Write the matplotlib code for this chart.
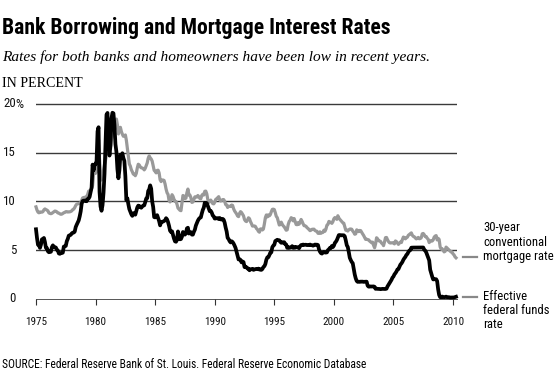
import numpy as np
import matplotlib
matplotlib.use("Agg")
import matplotlib.pyplot as plt
from matplotlib import font_manager

# Monthly values, Jan 1975 onward
funds_rate = [
    7.13, 6.24, 5.54, 5.49, 5.22, 5.55, 6.10, 6.14, 6.24, 5.82, 5.22, 5.20,
    4.87, 4.77, 4.84, 4.82, 5.29, 5.48, 5.31, 5.29, 5.25, 5.02, 4.95, 4.65,
    4.61, 4.68, 4.69, 4.73, 5.35, 5.39, 5.42, 5.90, 6.14, 6.47, 6.51, 6.56,
    6.70, 6.78, 6.79, 6.89, 7.36, 7.60, 7.81, 8.04, 8.45, 8.96, 9.76, 10.03,
    10.07, 10.06, 10.09, 10.01, 10.24, 10.29, 10.47, 10.94, 11.43, 13.77, 13.18, 13.78,
    13.82, 14.13, 17.19, 17.61, 10.98, 9.47, 9.03, 9.61, 10.87, 12.81, 15.85, 18.90,
    19.08, 15.93, 14.70, 15.72, 18.52, 19.10, 19.04, 17.82, 15.87, 15.08, 13.31, 12.37,
    13.22, 14.78, 14.68, 14.94, 14.45, 14.15, 12.59, 10.12, 10.31, 9.71, 9.20, 8.95,
    8.68, 8.51, 8.77, 8.80, 8.63, 8.98, 9.37, 9.56, 9.45, 9.48, 9.34, 9.47,
    9.56, 9.59, 9.91, 10.29, 10.32, 11.06, 11.23, 11.64, 11.30, 9.99, 9.43, 8.38,
    8.35, 8.50, 8.58, 8.27, 7.97, 7.53, 7.88, 7.90, 7.92, 7.99, 8.05, 8.27,
    8.14, 7.86, 7.48, 6.99, 6.85, 6.92, 6.56, 6.17, 5.89, 5.85, 6.04, 6.91,
    6.43, 6.10, 6.13, 6.37, 6.85, 6.73, 6.58, 6.73, 7.22, 7.29, 6.69, 6.77,
    6.83, 6.58, 6.58, 6.87, 7.09, 7.51, 7.75, 8.01, 8.19, 8.30, 8.35, 8.76,
    9.12, 9.36, 9.85, 9.84, 9.81, 9.53, 9.24, 8.99, 9.02, 8.84, 8.55, 8.45,
    8.23, 8.24, 8.28, 8.26, 8.18, 8.29, 8.15, 8.13, 8.20, 8.11, 7.81, 7.31,
    6.91, 6.25, 6.12, 5.91, 5.78, 5.90, 5.82, 5.66, 5.45, 5.21, 4.81, 4.43,
    4.03, 4.06, 3.98, 3.73, 3.82, 3.76, 3.25, 3.30, 3.22, 3.10, 3.09, 2.92,
    3.02, 3.03, 3.07, 2.96, 3.00, 3.04, 3.06, 3.03, 3.09, 2.99, 3.02, 2.96,
    3.05, 3.25, 3.34, 3.56, 4.01, 4.25, 4.26, 4.47, 4.73, 4.76, 5.29, 5.45,
    5.53, 5.92, 5.98, 6.05, 6.01, 6.00, 5.85, 5.74, 5.80, 5.76, 5.80, 5.60,
    5.56, 5.22, 5.31, 5.22, 5.24, 5.27, 5.40, 5.22, 5.30, 5.24, 5.31, 5.29,
    5.25, 5.19, 5.39, 5.51, 5.50, 5.56, 5.52, 5.54, 5.54, 5.50, 5.52, 5.50,
    5.56, 5.51, 5.49, 5.45, 5.49, 5.56, 5.54, 5.55, 5.51, 5.07, 4.83, 4.68,
    4.63, 4.76, 4.81, 4.74, 4.74, 4.76, 4.99, 5.07, 5.22, 5.20, 5.42, 5.30,
    5.45, 5.73, 5.85, 6.02, 6.27, 6.53, 6.54, 6.50, 6.52, 6.51, 6.51, 6.40,
    5.98, 5.49, 5.31, 4.80, 4.21, 3.97, 3.77, 3.65, 3.07, 2.49, 2.09, 1.82,
    1.73, 1.74, 1.73, 1.75, 1.75, 1.75, 1.73, 1.74, 1.75, 1.75, 1.34, 1.24,
    1.24, 1.26, 1.25, 1.26, 1.26, 1.22, 1.01, 1.03, 1.01, 1.01, 1.00, 0.98,
    1.00, 1.01, 1.00, 1.00, 1.00, 1.03, 1.26, 1.43, 1.61, 1.76, 1.93, 2.16,
    2.28, 2.50, 2.63, 2.79, 3.00, 3.04, 3.26, 3.50, 3.62, 3.78, 4.00, 4.16,
    4.29, 4.49, 4.59, 4.79, 4.94, 4.99, 5.24, 5.25, 5.25, 5.25, 5.25, 5.24,
    5.25, 5.26, 5.26, 5.25, 5.25, 5.25, 5.26, 5.02, 4.94, 4.76, 4.49, 4.24,
    3.94, 2.98, 2.61, 2.28, 1.98, 2.00, 2.01, 2.00, 1.81, 0.97, 0.39, 0.16,
    0.15, 0.22, 0.18, 0.15, 0.18, 0.21, 0.16, 0.16, 0.15, 0.12, 0.12, 0.12,
    0.11, 0.13, 0.16, 0.20,
]

mortgage_rate = [
    9.43, 9.10, 8.89, 8.82, 8.91, 8.89, 8.89, 8.94, 9.13, 9.22, 9.15, 9.10,
    9.02, 8.81, 8.76, 8.73, 8.77, 8.85, 8.93, 9.00, 8.98, 8.92, 8.81, 8.79,
    8.72, 8.67, 8.69, 8.75, 8.83, 8.86, 8.94, 8.94, 8.90, 8.92, 8.92, 8.96,
    9.02, 9.15, 9.20, 9.36, 9.57, 9.71, 9.74, 9.78, 9.76, 9.86, 10.11, 10.35,
    10.39, 10.41, 10.43, 10.50, 10.69, 11.04, 11.09, 11.09, 11.30, 11.64, 12.83, 12.90,
    12.88, 13.04, 15.28, 16.32, 14.26, 12.71, 12.19, 12.56, 13.20, 13.79, 14.21, 14.79,
    14.90, 15.13, 15.40, 15.58, 16.40, 16.70, 16.83, 17.29, 18.16, 18.45, 17.83, 16.92,
    17.40, 17.60, 17.16, 16.89, 16.68, 16.70, 16.82, 16.27, 15.43, 14.61, 13.83, 13.62,
    13.25, 13.04, 12.80, 12.78, 12.63, 12.87, 13.42, 13.81, 13.73, 13.54, 13.44, 13.42,
    13.37, 13.23, 13.39, 13.65, 13.94, 14.42, 14.67, 14.47, 14.35, 14.13, 13.64, 13.18,
    13.08, 12.92, 13.17, 13.20, 12.91, 12.22, 12.03, 12.19, 12.19, 12.14, 11.78, 11.26,
    10.88, 10.71, 10.08, 9.94, 10.14, 10.68, 10.51, 10.20, 10.01, 9.98, 9.70, 9.31,
    9.20, 9.08, 9.04, 9.83, 10.60, 10.54, 10.28, 10.33, 10.89, 11.26, 10.65, 10.64,
    10.38, 9.89, 9.93, 10.20, 10.46, 10.46, 10.43, 10.60, 10.48, 10.30, 10.27, 10.61,
    10.73, 10.65, 11.03, 11.05, 10.77, 10.20, 9.88, 9.99, 10.13, 9.95, 9.77, 9.74,
    9.90, 10.20, 10.27, 10.37, 10.48, 10.16, 10.04, 10.10, 10.18, 10.18, 10.01, 9.67,
    9.64, 9.37, 9.50, 9.49, 9.47, 9.62, 9.58, 9.24, 9.01, 8.86, 8.71, 8.50,
    8.43, 8.76, 8.94, 8.85, 8.67, 8.51, 8.13, 7.98, 7.92, 8.09, 8.31, 8.22,
    7.92, 7.71, 7.46, 7.46, 7.47, 7.42, 7.21, 7.11, 6.92, 6.83, 7.16, 7.17,
    7.06, 7.15, 7.68, 8.32, 8.60, 8.40, 8.61, 8.51, 8.64, 8.93, 9.17, 9.20,
    9.15, 8.83, 8.46, 8.32, 7.96, 7.57, 7.61, 7.86, 7.64, 7.48, 7.38, 7.20,
    7.03, 7.08, 7.62, 7.93, 8.07, 8.32, 8.25, 8.00, 8.23, 7.92, 7.62, 7.60,
    7.82, 7.65, 7.90, 8.14, 7.94, 7.69, 7.50, 7.48, 7.43, 7.29, 7.21, 7.10,
    6.99, 7.04, 7.13, 7.14, 7.14, 7.00, 6.95, 6.92, 6.72, 6.71, 6.87, 6.72,
    6.79, 6.81, 7.04, 6.92, 7.15, 7.55, 7.63, 7.94, 7.82, 7.85, 7.74, 7.91,
    8.21, 8.33, 8.24, 8.15, 8.52, 8.29, 8.15, 8.03, 7.91, 7.80, 7.75, 7.38,
    7.03, 7.05, 6.95, 7.08, 7.15, 7.16, 7.13, 6.95, 6.82, 6.62, 6.66, 7.07,
    7.00, 6.89, 7.01, 6.99, 6.81, 6.65, 6.49, 6.29, 6.09, 6.11, 6.07, 6.05,
    5.92, 5.84, 5.75, 5.81, 5.48, 5.23, 5.63, 6.26, 6.15, 5.95, 5.93, 5.88,
    5.71, 5.64, 5.45, 5.83, 6.27, 6.29, 6.06, 5.87, 5.75, 5.72, 5.73, 5.75,
    5.71, 5.63, 5.93, 5.86, 5.72, 5.58, 5.70, 5.82, 5.77, 6.07, 6.33, 6.27,
    6.15, 6.25, 6.32, 6.51, 6.60, 6.68, 6.76, 6.52, 6.40, 6.36, 6.24, 6.14,
    6.22, 6.29, 6.16, 6.18, 6.26, 6.66, 6.70, 6.57, 6.38, 6.38, 6.21, 6.10,
    5.76, 5.92, 5.97, 5.92, 6.04, 6.32, 6.43, 6.48, 6.04, 6.20, 6.09, 5.33,
    5.10, 5.13, 5.00, 4.81, 4.86, 5.30, 5.20, 5.10, 5.00, 4.90, 4.80, 4.80,
    4.60, 4.50, 4.30, 4.20,
]

start_year = 1975
x_ticks = [1975, 1980, 1985, 1990, 1995, 2000, 2005, 2010]
y_ticks = [0, 5, 10, 15, 20]
y_tick_labels = ["0", "5", "10", "15", "20"]

title = "Bank Borrowing and Mortgage Interest Rates"
subtitle = "Rates for both banks and homeowners have been low in recent years."
unit_label = "IN PERCENT"
source = "SOURCE: Federal Reserve Bank of St. Louis. Federal Reserve Economic Database"
mortgage_label = ["30-year", "conventional", "mortgage rate"]
funds_label = ["Effective", "federal funds", "rate"]

available = {f.name for f in font_manager.fontManager.ttflist}

def pick(cands):
    for c in cands:
        if c in available:
            return [c, "DejaVu Sans"]
    return ["DejaVu Sans"]

SANS = pick(["Liberation Sans Narrow", "Roboto Condensed", "Open Sans Condensed",
             "Noto Sans Condensed", "Roboto", "Liberation Sans"])
SERIF = pick(["Liberation Serif", "DejaVu Serif"])

W, H = 556, 384
fig = plt.figure(figsize=(W / 100, H / 100), dpi=100)
fig.patch.set_facecolor("white")
renderer = fig.canvas.get_renderer()

def fx(px):
    return px / W

def fy(py):
    return 1 - py / H

def fit(txt, target_px):
    w = txt.get_window_extent(renderer).width
    txt.set_fontsize(txt.get_fontsize() * target_px / w)
    return txt

def size_for(s, target_px, family, base=10):
    t = fig.text(0, 0, s, fontfamily=family, fontsize=base)
    w = t.get_window_extent(renderer).width
    t.remove()
    return base * target_px / w

ax_left, ax_right = 36, 456.6
y0_px, ytop_px = 298.7, 99.1
ax = fig.add_axes([fx(ax_left), fy(y0_px), (ax_right - ax_left) / W, (y0_px - ytop_px) / H])
ax.set_xlim(1975, 2010.3)
ax.set_ylim(0, 20.5)

t_f = start_year + np.arange(len(funds_rate)) / 12.0
t_m = start_year + np.arange(len(mortgage_rate)) / 12.0

for v in [5, 10, 15, 20]:
    ax.axhline(v, color="#3a3a3a", lw=1.0, zorder=1)
ax.axhline(0, color="#555555", lw=0.7, zorder=1, clip_on=False)

ax.plot(t_m, mortgage_rate, color="#999999", lw=2.3, zorder=3, solid_joinstyle="round", clip_on=False)
ax.plot(t_f, funds_rate, color="#000000", lw=2.7, zorder=4, solid_joinstyle="round", clip_on=False)

for s in ax.spines.values():
    s.set_visible(False)

tick_fs = size_for("1975", 22, SANS)
ytick_fs = size_for("10", 12.5, SANS)
ax.set_xticks(x_ticks)
ax.set_xticklabels([str(v) for v in x_ticks], fontfamily=SANS, fontsize=tick_fs, color="#111111")
ax.tick_params(axis="x", direction="out", length=4.5, width=0.8, color="#333333", pad=8.5)
ax.set_yticks(y_ticks)
ax.set_yticklabels(y_tick_labels, fontfamily=SANS, fontsize=ytick_fs, color="#111111")
ax.tick_params(axis="y", length=0, pad=14.4)
for lab in ax.get_yticklabels():
    lab.set_verticalalignment("center")

# percent sign after "20"
fig.text(fx(15.2), fy(104.5), "%", fontfamily=SANS, fontsize=ytick_fs, color="#111111",
         ha="left", va="center")

fit(fig.text(fx(2), fy(34), title, fontfamily=SANS, fontweight="bold", fontsize=15,
             color="black", ha="left", va="baseline"), 388)
fit(fig.text(fx(2), fy(61), subtitle, fontfamily=SERIF, fontstyle="italic", fontsize=12,
             color="black", ha="left", va="baseline"), 425)
fit(fig.text(fx(2), fy(86.7), unit_label, fontfamily=SERIF, fontsize=9.2,
             color="black", ha="left", va="baseline"), 80)
fit(fig.text(fx(2), fy(368), source, fontfamily=SANS, fontsize=9.2,
             color="black", ha="left", va="baseline"), 366)

# right side labels with leader lines
lab_fs = size_for("mortgage rate", 70, SANS)
for yl in [257, 296.5]:
    fig.add_artist(plt.Line2D([fx(463), fx(477)], [fy(yl), fy(yl)], color="#888888", lw=1.6))
for i, line in enumerate(mortgage_label):
    fig.text(fx(483), fy(231 + 14.5 * i), line, fontfamily=SANS, fontsize=lab_fs,
             color="black", ha="left", va="baseline")
for i, line in enumerate(funds_label):
    fig.text(fx(483), fy(300 + 13.8 * i), line, fontfamily=SANS, fontsize=lab_fs,
             color="black", ha="left", va="baseline")

fig.savefig("out.png", dpi=100, facecolor="white")
